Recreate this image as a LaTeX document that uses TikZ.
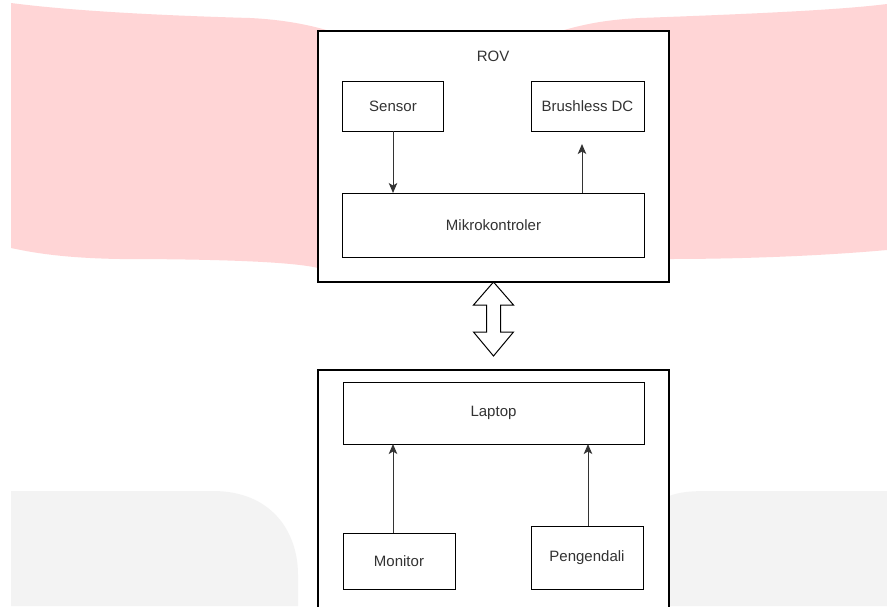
\documentclass[tikz,border=0pt]{standalone}
\usepackage{fontspec}
\setmainfont{Liberation Sans}
\usetikzlibrary{arrows.meta,calc}
\definecolor{pinkbg}{HTML}{FFD5D6}
\definecolor{graybg}{HTML}{F3F3F3}
\definecolor{txt}{HTML}{333333}
\definecolor{arrc}{HTML}{333333}
\begin{document}
\begin{tikzpicture}[x=1pt,y=-1pt,
  boxnode/.style={draw=black,line width=1pt,fill=white,inner sep=0pt,outer sep=0pt,
    font=\fontsize{15}{18}\selectfont,text=txt},
  outerbox/.style={draw=black,line width=1.3pt,fill=white},
  arr/.style={draw=arrc,line width=1pt,-{Stealth[length=10pt,width=8.5pt,inset=2.5pt]}},
  dblarrow/.style={draw=black,line width=1pt,fill=white,line join=miter}]
\useasboundingbox (0,0) rectangle (887,606);
\clip (0,0) rectangle (887,606);
\fill[white] (0,0) rectangle (887,606);
% pink background blobs
\fill[pinkbg] (11,3) .. controls (80,12) and (180,16) .. (250,18)
  .. controls (290,20) and (320,27) .. (345,36) -- (345,272) -- (318,268)
  .. controls (290,261) and (200,259) .. (120,259)
  .. controls (60,258) and (30,252) .. (11,248) -- cycle;
\fill[pinkbg] (545,36) .. controls (575,26) and (600,20) .. (640,18)
  .. controls (750,14) and (840,10) .. (887,4) -- (887,250)
  .. controls (820,256) and (740,259) .. (669,259) -- (640,262) -- (640,36) -- cycle;
% gray background blobs
\fill[graybg] (11,491) -- (213,491) .. controls (270,491) and (298,530) .. (298,575)
  -- (298,606) -- (11,606) -- cycle;
\fill[graybg] (669,496) .. controls (680,492) and (690,491) .. (710,491)
  -- (887,491) -- (887,606) -- (669,606) -- cycle;
% outer boxes
\node[outerbox,minimum width=351pt,minimum height=251pt,inner sep=0pt,outer sep=0pt] (rov) at (493.5,156.5) {};
\node[outerbox,minimum width=351pt,minimum height=260pt,inner sep=0pt,outer sep=0pt] (pc) at (493.5,500) {};
\node[font=\fontsize{15}{18}\selectfont,text=txt] (rovlabel) at (493,56) {ROV};
% inner boxes
\node[boxnode,minimum width=101pt,minimum height=50pt] (sensor) at (393,106) {Sensor};
\node[boxnode,minimum width=113pt,minimum height=50pt] (bdc) at (587.5,106) {Brushless DC};
\node[boxnode,minimum width=302pt,minimum height=64pt] (mikro) at (493.5,225) {Mikrokontroler};
\node[boxnode,minimum width=301pt,minimum height=62pt] (laptop) at (493.5,413) {Laptop};
\node[boxnode,minimum width=112pt,minimum height=56pt] (monitor) at (399,561) {Monitor};
\node[boxnode,minimum width=112pt,minimum height=63pt] (peng) at (587,557.5) {Pengendali};
% connectors
\coordinate (bdcin) at (582,144);
\coordinate (lapA) at (393,444);
\coordinate (lapB) at (588,444);
\draw[arr] (sensor.south) -- (sensor.south |- mikro.north);
\draw[arr] (mikro.north -| bdcin) -- (bdcin);
\draw[arr] (monitor.north -| lapA) -- (laptop.south -| lapA);
\draw[arr] (peng.north -| lapB) -- (laptop.south -| lapB);
% double arrow between ROV and PC
\draw[dblarrow] (rov.south) -- ++(20,23) -- ++(-13,0) -- ++(0,27) -- ++(13,0)
  -- (pc.north |- 0,356) -- ++(-20,-24) -- ++(13,0) -- ++(0,-27) -- ++(-13,0) -- cycle;
\end{tikzpicture}
\end{document}
